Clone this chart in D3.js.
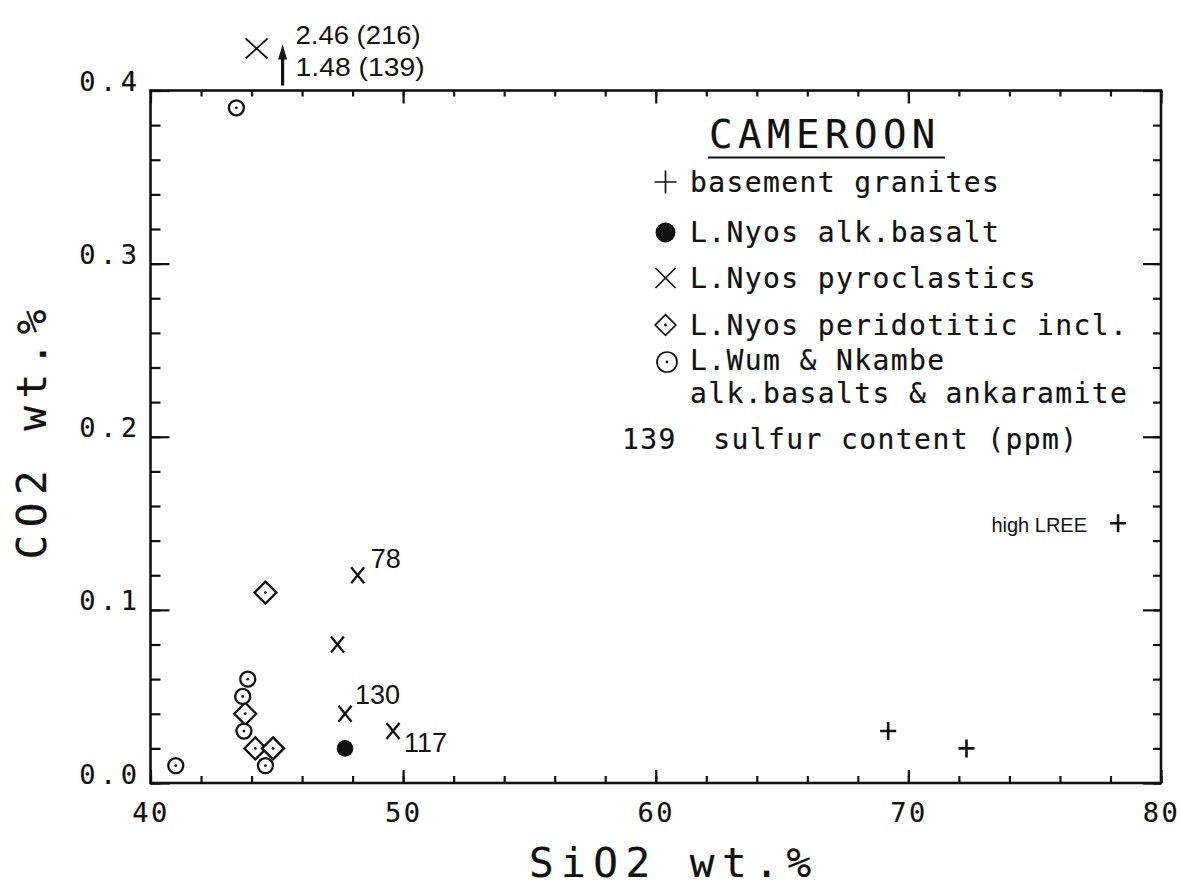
<!DOCTYPE html>
<html>
<head>
<meta charset="utf-8">
<script src="https://cdn.jsdelivr.net/npm/d3@7"></script>
<style>
  body { margin: 0; background: #fff; }
  .plotter { font-family: 'DejaVu Sans Mono', monospace; fill: #111; stroke: #111; stroke-width: 0.2px; }
  .hand { font-family: 'Liberation Sans', Arial, sans-serif; fill: #111; }
</style>
</head>
<body>
<div id="chart"></div>
<script>
// SiO2 wt.% (x) against CO2 wt.% (y)
const graniteSi = [69.2, 72.3, 78.3]
const graniteCo2 = [0.03, 0.02, 0.15]
const basaltSi = [47.7]
const basaltCo2 = [0.02]
const pyroSi = [48.2, 47.4, 47.7, 49.6]
const pyroCo2 = [0.12, 0.08, 0.04, 0.03]
const pyroSulfur = ['78', '', '130', '117']
// one pyroclastic sample is off the scale
const offSi = 44.2
const offCo2 = [2.46, 1.48]
const offSulfur = [216, 139]
const periSi = [44.55, 43.75, 44.15, 44.85]
const periCo2 = [0.11, 0.04, 0.02, 0.02]
const wumSi = [41.0, 43.85, 43.65, 43.7, 44.55, 43.4]
const wumCo2 = [0.01, 0.06, 0.05, 0.03, 0.01, 0.39]
const xTicks = [40, 50, 60, 70, 80]
const yTicks = [0, 0.1, 0.2, 0.3, 0.4]
const legendLabels = [
  'basement granites',
  'L.Nyos alk.basalt',
  'L.Nyos pyroclastics',
  'L.Nyos peridotitic incl.',
  'L.Wum & Nkambe',
  'alk.basalts & ankaramite'
]

let margin = { top: 90.5, left: 150.5, right: 19, bottom: 105 }
let width = 1180 - margin.left - margin.right
let height = 888 - margin.top - margin.bottom

const ink = '#111'

const svg = d3
  .select('#chart')
  .append('svg')
  .attr('width', 1180)
  .attr('height', 888)
  .append('g')
  .attr('transform', 'translate(' + margin.left + ',' + margin.top + ')')

const xPositionScale = d3.scaleLinear().domain([40, 80]).range([0, width])
const yPositionScale = d3.scaleLinear().domain([0, 0.4]).range([height, 0])

const xMinor = d3.range(40, 80.01, 2)
const yMinor = d3.range(0, 0.401, 0.02)

// ticks all point into the box
function addAxis(axis, transform, cls) {
  const g = svg.append('g').attr('class', cls).attr('transform', transform).call(axis)
  g.select('.domain').remove()
  g.selectAll('line').attr('stroke', ink).attr('stroke-width', 2.2)
  return g
}

addAxis(d3.axisBottom(xPositionScale).tickValues(xMinor).tickSize(-7).tickFormat(''), 'translate(0,' + height + ')', 'xminor')
const xMajor = addAxis(
  d3.axisBottom(xPositionScale).tickValues(xTicks).tickSize(-13).tickPadding(20),
  'translate(0,' + height + ')',
  'xmajor'
)
xMajor.selectAll('text')
  .attr('class', 'plotter')
  .attr('font-size', 27)
  .attr('letter-spacing', '2.5px')
  .attr('dx', 0)
  .attr('fill', ink)

addAxis(d3.axisTop(xPositionScale).tickValues(xMinor).tickSize(-6).tickFormat(''), 'translate(0,0)', 'xtop')
addAxis(d3.axisTop(xPositionScale).tickValues(xTicks).tickSize(-13).tickFormat(''), 'translate(0,0)', 'xtopmajor')

addAxis(d3.axisLeft(yPositionScale).tickValues(yMinor).tickSize(-10).tickFormat(''), 'translate(0,0)', 'yminor')
const yMajor = addAxis(
  d3.axisLeft(yPositionScale).tickValues(yTicks).tickSize(-19).tickPadding(9).tickFormat(d3.format('.1f')),
  'translate(0,0)',
  'ymajor'
)
yMajor.selectAll('text')
  .attr('class', 'plotter')
  .attr('font-size', 27)
  .attr('letter-spacing', '4.5px')
  .attr('dy', 0)
  .attr('fill', ink)

addAxis(d3.axisRight(yPositionScale).tickValues(yMinor).tickSize(-8).tickFormat(''), 'translate(' + width + ',0)', 'yright')
addAxis(d3.axisRight(yPositionScale).tickValues(yTicks).tickSize(-18).tickFormat(''), 'translate(' + width + ',0)', 'yrightmajor')

svg.append('rect')
  .attr('width', width)
  .attr('height', height)
  .attr('fill', 'none')
  .attr('stroke', ink)
  .attr('stroke-width', 2.6)

// axis titles
svg.append('text')
  .attr('class', 'plotter')
  .attr('x', width / 2 + 18)
  .attr('y', height + 94)
  .attr('text-anchor', 'middle')
  .attr('font-size', 41)
  .attr('letter-spacing', '7.5px')
  .text('SiO2 wt.%')

svg.append('text')
  .attr('class', 'plotter')
  .attr('transform', 'translate(' + (46 - margin.left) + ',' + (height / 2 - 6) + ') rotate(-90)')
  .attr('text-anchor', 'middle')
  .attr('font-size', 41)
  .attr('letter-spacing', '7.5px')
  .text('CO2 wt.%')

// marker shapes
const plusPath = 'M-8,0H8M0,-9V9'
const crossPath = 'M-6.5,-8L6.5,8M6.5,-8L-6.5,8'
const diamondPath = 'M0,-11L11,0L0,11L-11,0Z'

function pairs(xs, ys) {
  return xs.map((x, i) => ({ si: x, co2: ys[i], i: i }))
}

svg.selectAll('.granite')
  .data(pairs(graniteSi, graniteCo2))
  .enter()
  .append('path')
  .attr('class', 'granite')
  .attr('d', plusPath)
  .attr('transform', d => 'translate(' + xPositionScale(d.si) + ',' + yPositionScale(d.co2) + ')')
  .attr('stroke', ink)
  .attr('stroke-width', 2.6)
  .attr('fill', 'none')

svg.selectAll('.basalt')
  .data(pairs(basaltSi, basaltCo2))
  .enter()
  .append('circle')
  .attr('class', 'basalt')
  .attr('cx', d => xPositionScale(d.si))
  .attr('cy', d => yPositionScale(d.co2))
  .attr('r', 8.3)
  .attr('fill', ink)

svg.selectAll('.pyro')
  .data(pairs(pyroSi, pyroCo2))
  .enter()
  .append('path')
  .attr('class', 'pyro')
  .attr('d', crossPath)
  .attr('transform', d => 'translate(' + xPositionScale(d.si) + ',' + yPositionScale(d.co2) + ')')
  .attr('stroke', ink)
  .attr('stroke-width', 2.3)
  .attr('fill', 'none')

// sulfur labels next to the pyroclastics
const labelOffsets = [[13, -7], [0, 0], [10, -10], [11, 21]]
svg.selectAll('.sulfur')
  .data(pairs(pyroSi, pyroCo2).filter(d => pyroSulfur[d.i] !== ''))
  .enter()
  .append('text')
  .attr('class', 'hand sulfur')
  .attr('x', d => xPositionScale(d.si) + labelOffsets[d.i][0])
  .attr('y', d => yPositionScale(d.co2) + labelOffsets[d.i][1])
  .attr('font-size', 27)
  .text(d => pyroSulfur[d.i])

svg.selectAll('.peri')
  .data(pairs(periSi, periCo2))
  .enter()
  .append('g')
  .attr('class', 'peri')
  .attr('transform', d => 'translate(' + xPositionScale(d.si) + ',' + yPositionScale(d.co2) + ')')
  .each(function() {
    d3.select(this).append('path').attr('d', diamondPath)
      .attr('fill', '#fff').attr('stroke', ink).attr('stroke-width', 2.3)
    d3.select(this).append('circle').attr('r', 1.4).attr('fill', ink)
  })

svg.selectAll('.wum')
  .data(pairs(wumSi, wumCo2))
  .enter()
  .append('g')
  .attr('class', 'wum')
  .attr('transform', d => 'translate(' + xPositionScale(d.si) + ',' + yPositionScale(d.co2) + ')')
  .each(function() {
    d3.select(this).append('circle').attr('r', 7.5)
      .attr('fill', '#fff').attr('stroke', ink).attr('stroke-width', 2.3)
    d3.select(this).append('circle').attr('r', 1.4).attr('fill', ink)
  })

// off-scale sample, drawn above the box with an arrow
const offX = xPositionScale(offSi)
const offTop = yPositionScale(0.4)
svg.append('path')
  .attr('d', 'M-11,-10L11,10M11,-10L-11,10')
  .attr('transform', 'translate(' + offX + ',' + (offTop - 42) + ')')
  .attr('stroke', ink)
  .attr('stroke-width', 1.7)
  .attr('fill', 'none')

svg.append('line')
  .attr('x1', offX + 26)
  .attr('x2', offX + 26)
  .attr('y1', offTop - 5)
  .attr('y2', offTop - 32)
  .attr('stroke', ink)
  .attr('stroke-width', 3.2)
svg.append('path')
  .attr('d', 'M0,0L-4.5,15L4.5,15Z')
  .attr('transform', 'translate(' + (offX + 26) + ',' + (offTop - 46) + ')')
  .attr('fill', ink)

svg.selectAll('.offlabel')
  .data(offCo2)
  .enter()
  .append('text')
  .attr('class', 'hand offlabel')
  .attr('x', offX + 39)
  .attr('y', (d, i) => offTop - 47 + i * 32)
  .attr('font-size', 26)
  .attr('textLength', (d, i) => (i === 0 ? 125 : 129))
  .attr('lengthAdjust', 'spacingAndGlyphs')
  .text((d, i) => d.toFixed(2) + ' (' + offSulfur[i] + ')')

// high LREE note
svg.append('text')
  .attr('class', 'hand')
  .attr('x', xPositionScale(graniteSi[2]) - 31)
  .attr('y', yPositionScale(graniteCo2[2]) + 9)
  .attr('text-anchor', 'end')
  .attr('font-size', 20)
  .text('high LREE')

// legend
const legend = svg.append('g').attr('transform', 'translate(' + -margin.left + ',' + -margin.top + ')')

legend.append('text')
  .attr('class', 'plotter')
  .attr('x', 709)
  .attr('y', 148)
  .attr('font-size', 39)
  .attr('letter-spacing', '5.5px')
  .text('CAMEROON')
legend.append('line')
  .attr('x1', 708).attr('x2', 945)
  .attr('y1', 157.5).attr('y2', 157.5)
  .attr('stroke', ink).attr('stroke-width', 2)

const rowBase = [192, 242, 288, 335, 370, 403]
const symX = 665.5
const textX = 690

legend.selectAll('.legtext')
  .data(legendLabels)
  .enter()
  .append('text')
  .attr('class', 'plotter legtext')
  .attr('x', textX)
  .attr('y', (d, i) => rowBase[i])
  .attr('font-size', 28)
  .attr('letter-spacing', '1.4px')
  .text(d => d)

legend.append('text')
  .attr('class', 'plotter')
  .attr('x', 622)
  .attr('y', 449)
  .attr('font-size', 28)
  .attr('letter-spacing', '1.4px')
  .attr('xml:space', 'preserve')
  .style('white-space', 'pre')
  .text('139  sulfur content (ppm)')

legend.append('path')
  .attr('d', 'M-11,0H11M0,-11.5V11.5')
  .attr('transform', 'translate(' + symX + ',' + (rowBase[0] - 10) + ')')
  .attr('stroke', ink).attr('stroke-width', 1.7).attr('fill', 'none')
legend.append('circle')
  .attr('cx', symX).attr('cy', rowBase[1] - 9.5)
  .attr('r', 10).attr('fill', ink)
legend.append('path')
  .attr('d', 'M-10,-10L10,10M10,-10L-10,10')
  .attr('transform', 'translate(' + symX + ',' + (rowBase[2] - 10) + ')')
  .attr('stroke', ink).attr('stroke-width', 1.7).attr('fill', 'none')
legend.append('path')
  .attr('d', 'M0,-10.3L10.3,0L0,10.3L-10.3,0Z')
  .attr('transform', 'translate(' + symX + ',' + (rowBase[3] - 10) + ')')
  .attr('stroke', ink).attr('stroke-width', 1.7).attr('fill', 'none')
legend.append('circle')
  .attr('cx', symX).attr('cy', rowBase[3] - 10)
  .attr('r', 1.4).attr('fill', ink)
legend.append('circle')
  .attr('cx', symX + 1.5).attr('cy', rowBase[4] - 8)
  .attr('r', 10).attr('fill', 'none').attr('stroke', ink).attr('stroke-width', 1.7)
legend.append('circle')
  .attr('cx', symX + 1.5).attr('cy', rowBase[4] - 8)
  .attr('r', 1.4).attr('fill', ink)
</script>
</body>
</html>
